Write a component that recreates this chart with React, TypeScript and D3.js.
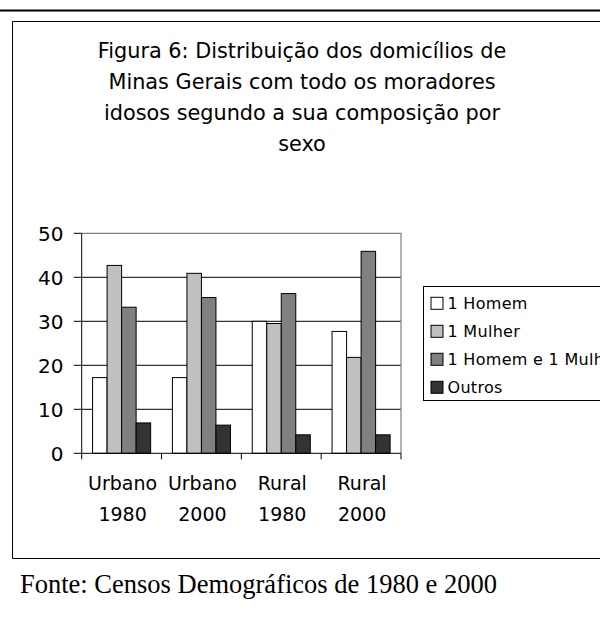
import * as d3 from "d3";

const categories = ["Urbano 1980", "Urbano 2000", "Rural 1980", "Rural 2000"];
const seriesNames = ["1 Homem", "1 Mulher", "1 Homem e 1 Mulher", "Outros"];
const homem = [17.2, 17.2, 30.0, 27.7];
const mulher = [42.7, 40.9, 29.5, 21.8];
const casal = [33.2, 35.4, 36.3, 45.9];
const outros = [6.9, 6.4, 4.2, 4.2];
const yTicks = [0, 10, 20, 30, 40, 50];
const titleLines = [
  "Figura 6: Distribuição dos domicílios de",
  "Minas Gerais com todo os moradores",
  "idosos segundo a sua composição por",
  "sexo",
];

const fills = ["#ffffff", "#c0c0c0", "#808080", "#333333"];
const sans = "'DejaVu Sans', Arial, sans-serif";

export default function App() {
  const W = 600,
    H = 623;
  const plot = { left: 81.7, right: 401, top: 233.3, bottom: 453.3 };

  const allSeries = [homem, mulher, casal, outros];
  const x = d3.scaleBand().domain(categories).range([plot.left, plot.right]);
  const x1 = d3
    .scaleBand()
    .domain(seriesNames)
    .range([0, x.bandwidth()])
    .paddingOuter(0.75);
  const y = d3.scaleLinear().domain([0, 50]).range([plot.bottom, plot.top]);

  const tickXs = categories.map((c) => x(c)!).concat([plot.right]);

  return (
    <svg
      width={W}
      height={H}
      style={{ position: "absolute", left: 0, top: 0, background: "#fff" }}
    >
      {/* top rule and outer frame */}
      <line x1={0} x2={W} y1={10.5} y2={10.5} stroke="#000" strokeWidth={2} />
      <path d={`M${W + 2},21.5 H12.5 V558.5 H${W + 2}`} fill="none" stroke="#000" strokeWidth={1} />

      {/* title */}
      <g fontFamily={sans} fontSize={20.8} textAnchor="middle" fill="#000">
        {titleLines.map((t, i) => (
          <text key={i} x={302} y={58 + i * 31}>
            {t}
          </text>
        ))}
      </g>

      {/* gridlines */}
      {yTicks.slice(1, -1).map((t) => (
        <line key={t} x1={plot.left} x2={plot.right} y1={y(t)} y2={y(t)} stroke="#000" strokeWidth={1} />
      ))}
      {/* plot frame: top/right gray */}
      <path
        d={`M${plot.left},${plot.top} H${plot.right} V${plot.bottom}`}
        fill="none"
        stroke="#808080"
        strokeWidth={1.2}
      />

      {/* bars */}
      {categories.map((c, ci) => (
        <g key={c} transform={`translate(${x(c)},0)`}>
          {seriesNames.map((s, si) => {
            const v = allSeries[si][ci];
            return (
              <rect
                key={s}
                x={x1(s)}
                y={y(v)}
                width={x1.bandwidth()}
                height={y(0) - y(v)}
                fill={fills[si]}
                stroke="#000"
                strokeWidth={1}
              />
            );
          })}
        </g>
      ))}

      {/* axes */}
      <line x1={plot.left} x2={plot.left} y1={plot.top} y2={plot.bottom} stroke="#000" />
      <line x1={plot.left} x2={plot.right} y1={plot.bottom} y2={plot.bottom} stroke="#000" />
      {yTicks.map((t) => (
        <g key={t}>
          <line x1={plot.left - 8} x2={plot.left} y1={y(t)} y2={y(t)} stroke="#000" />
          <text
            x={63.5}
            y={y(t)}
            dy="0.36em"
            textAnchor="end"
            fontFamily={sans}
            fontSize={20}
          >
            {t}
          </text>
        </g>
      ))}
      {tickXs.map((tx, i) => (
        <line key={i} x1={tx} x2={tx} y1={plot.bottom} y2={plot.bottom + 6} stroke="#000" />
      ))}
      {categories.map((c) => {
        const [a, b] = c.split(" ");
        const cx = x(c)! + x.bandwidth() / 2 + 1;
        return (
          <text key={c} textAnchor="middle" fontFamily={sans} fontSize={19}>
            <tspan x={cx} y={490}>
              {a}
            </tspan>
            <tspan x={cx} y={521}>
              {b}
            </tspan>
          </text>
        );
      })}

      {/* legend */}
      <rect x={423.5} y={286.5} width={W} height={114} fill="#fff" stroke="#000" />
      {seriesNames.map((s, i) => (
        <g key={s} transform={`translate(0,${303.3 + i * 28})`}>
          <rect x={431} y={-6} width={12} height={12} fill={fills[i]} stroke="#000" />
          <text x={447.5} dy="0.36em" fontFamily={sans} fontSize={16} letterSpacing={0.3}>
            {s}
          </text>
        </g>
      ))}

      {/* source */}
      <text x={20} y={593} fontFamily="'Liberation Serif', 'Times New Roman', serif" fontSize={26.5}>
        Fonte: Censos Demográficos de 1980 e 2000
      </text>
    </svg>
  );
}
